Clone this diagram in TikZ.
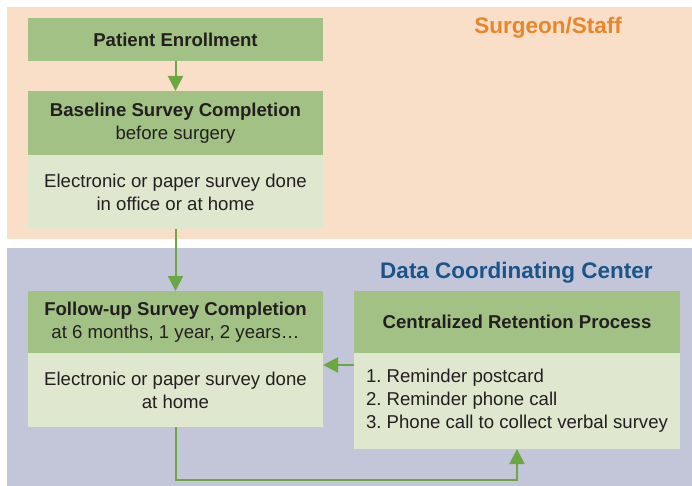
\documentclass[tikz,border=0pt]{standalone}
\usepackage{fontspec}
\setmainfont{Liberation Sans}
\usepackage{tikz}
\usetikzlibrary{positioning, arrows.meta}
\definecolor{peach}{RGB}{249, 223, 199}
\definecolor{lavender}{RGB}{195, 198, 217}
\definecolor{darkgreen}{RGB}{162, 193, 132}
\definecolor{lightgreen}{RGB}{223, 231, 207}
\definecolor{flowgreen}{RGB}{107, 168, 68}
\definecolor{staff}{RGB}{232, 134, 43}
\definecolor{dccblue}{RGB}{27, 84, 136}
\definecolor{ink}{RGB}{35, 31, 32}

\begin{document}
\begin{tikzpicture}[x=1pt, y=-1pt,
  head/.style={fill=darkgreen, text=ink, align=center, inner sep=0, outer sep=0, font=\fontsize{18.6}{23}\selectfont},
  body/.style={fill=lightgreen, text=ink, align=center, inner sep=0, outer sep=0, font=\fontsize{18.6}{23}\selectfont},
  title/.style={anchor=base, font=\fontsize{22.5}{27}\selectfont\bfseries},
  flow/.style={draw=flowgreen, line width=2pt, -{Triangle[width=15pt, length=15pt]}}]
  \useasboundingbox (0, 0) rectangle (692, 486);
  \fill[peach] (7, 7) rectangle (692, 239);
  \fill[lavender] (7, 248) rectangle (692, 486);

  \node[title, text=staff] (staff) at (548, 33.5) {Surgeon/Staff};
  \node[title, text=dccblue] (dcc) at (516.5, 278.5) {Data Coordinating Center};

  \node[head, minimum width=295pt, minimum height=43pt, font=\fontsize{18.6}{23}\selectfont\bfseries] (enroll) at (175.5, 39.5) {Patient Enrollment};
  \node[head, minimum width=295pt, minimum height=64pt] (basehead) at (175.5, 123) {\textbf{Baseline Survey Completion}\\before surgery};
  \node[body, minimum width=295pt, minimum height=74pt, below=0pt of basehead] (basebody) {Electronic or paper survey done\\in office or at home};

  \node[head, minimum width=295pt, minimum height=62pt] (fuhead) at (175.5, 322) {\textbf{Follow-up Survey Completion}\\at 6 months, 1 year, 2 years…};
  \node[body, minimum width=295pt, minimum height=74pt, below=0pt of fuhead] (fubody) {Electronic or paper survey done\\at home};

  \node[head, minimum width=326pt, minimum height=62pt, font=\fontsize{18.6}{23}\selectfont\bfseries] (rethead) at (517, 322) {Centralized Retention Process};
  \node[body, minimum width=326pt, minimum height=96pt, align=left, below=0pt of rethead] (retbody) {1.\ Reminder postcard\\2.\ Reminder phone call\\3.\ Phone call to collect verbal survey};

  \coordinate (loop) at (517, 480);
  \draw[flow] (enroll) -- (basehead);
  \draw[flow] (basebody) -- (fuhead);
  \draw[flow] ([yshift=-12pt]retbody.north west) -- ([yshift=-12pt]fubody.north east);
  \draw[flow] (fubody.south) |- (loop) -- (retbody.south);
\end{tikzpicture}
\end{document}
